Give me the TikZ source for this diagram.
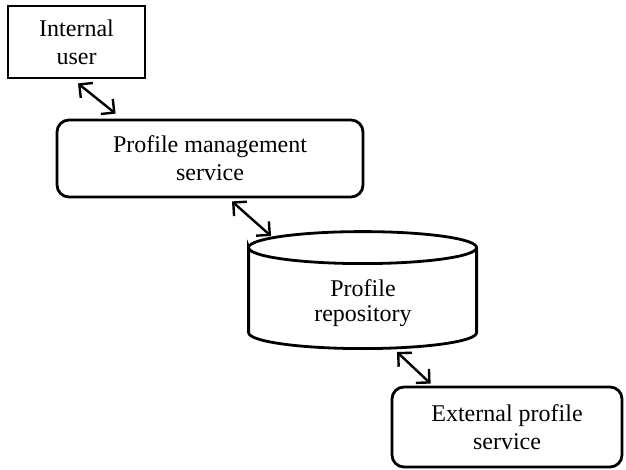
\documentclass[tikz,border=0pt]{standalone}
\usepackage{fontspec}
\setmainfont{Liberation Serif}
\usetikzlibrary{arrows.meta}

\begin{document}
\begin{tikzpicture}[font=\fontsize{12pt}{14pt}\selectfont,>={Straight Barb[length=4.8pt,width=9.6pt]},x=0.5pt,y=-0.5pt,
  box/.style={rectangle,draw=black,line width=1.4pt,align=center,inner sep=0pt},
  roundbox/.style={box,rounded corners=6pt},
  drum/.style={draw=black,line width=1.4pt},
  link/.style={<->,draw=black,line width=1.2pt}]
\useasboundingbox (0,0) rectangle (626,470);
\node[box,minimum width=68.5pt,minimum height=36pt] (user) at (76.5,42) {Internal\\user};
\node[roundbox,minimum width=153pt,minimum height=38.5pt] (pms) at (210,158.5) {Profile management\\service};
\node[inner sep=0pt,minimum width=114pt,minimum height=58.5pt,
  label={[yshift=-6.5pt,align=center,font=\fontsize{12pt}{12.5pt}\selectfont]center:Profile\\repository}] (repo) at (363,290.5) {};
\draw[drum] (repo.north west) ++(0,16) arc[start angle=180,end angle=-180,x radius=57pt,y radius=8pt]
  -- ++(0,85) arc[start angle=180,end angle=360,x radius=57pt,y radius=8pt] -- ++(0,-85);
\node[roundbox,minimum width=115pt,minimum height=40pt] (ext) at (507,427) {External profile\\service};
\draw[link] ([shift={(1.5,4)}]user.south) -- ([shift={(60,-5)}]pms.north west);
\draw[link] ([shift={(22,3)}]pms.south) -- ([shift={(-92,-54.5)}]repo.center);
\draw[link] ([shift={(34,61.5)}]repo.center) -- ([shift={(40,-2)}]ext.north west);
\end{tikzpicture}
\end{document}
